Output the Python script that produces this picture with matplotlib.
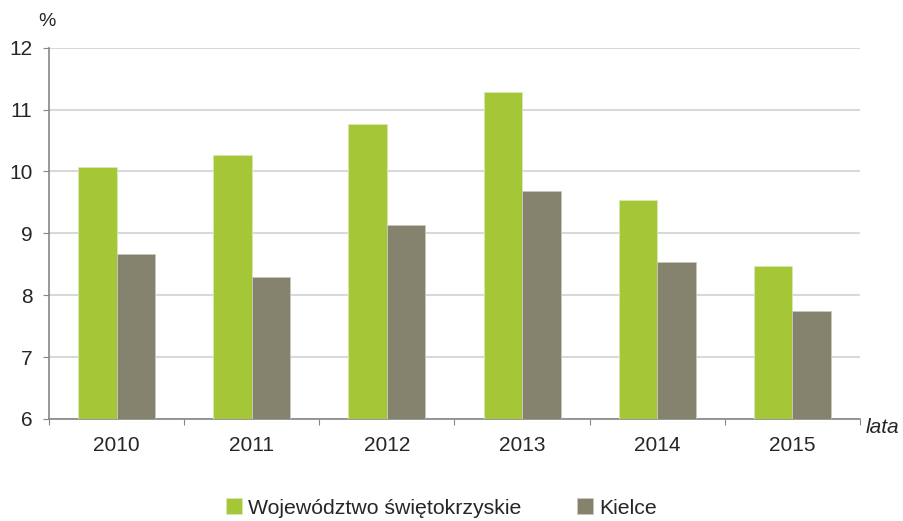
import numpy as np
import matplotlib.pyplot as plt

plt.rcParams['font.family'] = ['Liberation Sans', 'DejaVu Sans']

years = ['2010', '2011', '2012', '2013', '2014', '2015']
swietokrzyskie = [10.07, 10.26, 10.77, 11.29, 9.54, 8.47]
kielce = [8.66, 8.30, 9.14, 9.69, 8.53, 7.75]

green = '#a5c637'
grey = '#85836d'
txt = '#262626'

fig = plt.figure(figsize=(9.04, 5.21), dpi=100)
ax = fig.add_axes([0.0542, 0.1958, 0.8971, 0.7128])

x = np.arange(len(years))
w = 0.285
ax.bar(x - w / 2, swietokrzyskie, w, color=green, edgecolor='#d8ebb0', linewidth=0.6,
       label='Województwo świętokrzyskie', zorder=3)
ax.bar(x + w / 2, kielce, w, color=grey, edgecolor='#c9c8bc', linewidth=0.6,
       label='Kielce', zorder=3)

ax.set_ylim(6, 12)
ax.set_xlim(-0.5, len(years) - 0.5)
ax.set_yticks(range(6, 13))
ax.grid(axis='y', color='#d9d9d9', linewidth=1.5, zorder=0)

# ticks between categories, labels centred under the groups
ax.set_xticks(np.arange(-0.5, len(years), 1.0))
ax.set_xticklabels([])
ax.set_xticks(x, minor=True)
ax.set_xticklabels(years, minor=True)
ax.tick_params(axis='x', which='major', length=4, color='#868686', direction='out')
ax.tick_params(axis='x', which='minor', length=0, pad=12, labelsize=15, labelcolor=txt)
ax.tick_params(axis='y', length=4, color='#868686', pad=8, labelsize=15, labelcolor=txt)

for s in ['top', 'right']:
    ax.spines[s].set_visible(False)
for s in ['left', 'bottom']:
    ax.spines[s].set_color('#868686')
    ax.spines[s].set_linewidth(1.2)

fig.text(0.042, 0.958, '%', fontsize=14, color=txt, ha='left', va='center')
fig.text(0.958, 0.179, 'lata', fontsize=15, style='italic', color=txt, ha='left', va='center')

fig.legend(loc='lower center', bbox_to_anchor=(0.488, -0.03), ncol=2, frameon=False,
           fontsize=15.3, handlelength=0.75, handleheight=0.75, handletextpad=0.3,
           columnspacing=2.6, labelcolor=txt)

fig.savefig('out.png', dpi=100)
